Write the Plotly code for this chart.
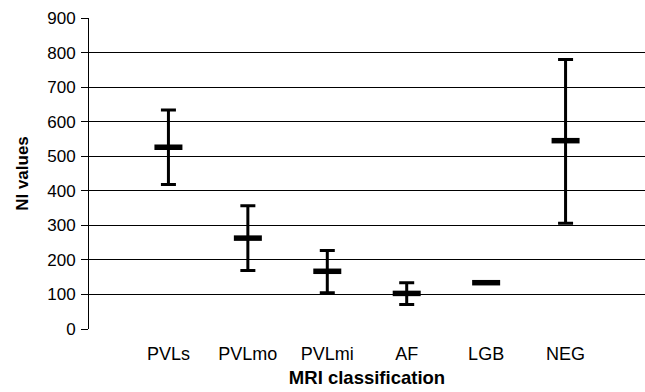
import plotly.graph_objects as go

categories = ["PVLs", "PVLmo", "PVLmi", "AF", "LGB", "NEG"]
means = [526, 263, 167, 103, 134, 545]
upper = [634, 357, 227, 134, 134, 780]
lower = [418, 169, 105, 71, 134, 306]

xpos = list(range(1, len(categories) + 1))
err_plus = [u - m for u, m in zip(upper, means)]
err_minus = [m - l for m, l in zip(means, lower)]

font = "Liberation Sans, Arial, sans-serif"

fig = go.Figure()
fig.add_trace(go.Scatter(
    x=xpos, y=means, mode="markers",
    marker=dict(symbol="line-ew", size=20, line=dict(width=5.5, color="black"), color="black"),
    error_y=dict(type="data", symmetric=False, array=err_plus, arrayminus=err_minus,
                 color="black", thickness=3, width=7.5),
    showlegend=False,
))

fig.update_layout(
    width=645, height=392,
    margin=dict(l=89, r=0, t=18, b=63),
    paper_bgcolor="white", plot_bgcolor="white",
    font=dict(family=font, color="black"),
    xaxis=dict(
        range=[0, 7], tickvals=xpos, ticktext=categories,
        showgrid=False, zeroline=False, showline=False, ticks="",
        tickfont=dict(size=18), ticklabelstandoff=12,
        title=dict(text="<b>MRI classification</b>", font=dict(size=18.5), standoff=8),
    ),
    yaxis=dict(
        range=[0, 900], dtick=100, tick0=0,
        showgrid=True, gridcolor="black", gridwidth=1,
        zeroline=False, showline=True, linecolor="black", linewidth=1,
        ticks="outside", ticklen=7, tickcolor="black", tickwidth=1,
        tickfont=dict(size=17), ticklabelstandoff=2,
        title=dict(text="<b>NI values</b>", font=dict(size=17), standoff=14),
    ),
)

fig.write_html("out.html")
